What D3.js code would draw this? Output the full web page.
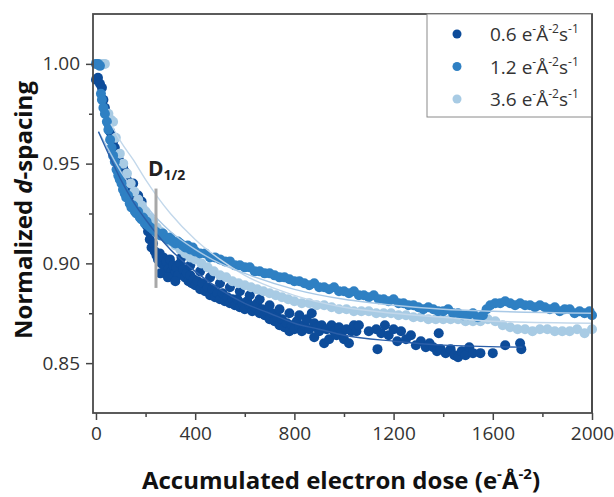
<!DOCTYPE html>
<html>
<head>
<meta charset="utf-8">
<script src="https://cdn.jsdelivr.net/npm/d3@7"></script>
<style>
  body { margin: 0; background: #fff; }
  text { font-family: "Open Sans", sans-serif; }
</style>
</head>
<body>
<script>
// data: [dose, normalized d-spacing]
var series06 = [[0,0.992],[8,0.993],[16,0.990],[24,0.988],[30,0.982],[36,0.978],[44,0.975],[50,0.970],[57,0.966],[63,0.963],
  [69,0.961],[76,0.958],[83,0.955],[90,0.953],[96,0.951],[103,0.950],[109,0.948],[116,0.946],[122,0.943],[129,0.941],
  [136,0.940],[143,0.936],[150,0.940],[157,0.934],[163,0.932],[170,0.934],[177,0.929],[184,0.931],[190,0.926],[197,0.922],
  [204,0.919],[210,0.916],[217,0.912],[224,0.908],[230,0.910],[237,0.906],[244,0.904],[250,0.902],[257,0.905],[264,0.900],
  [271,0.903],[278,0.898],[284,0.901],[291,0.897],[298,0.902],[305,0.896],[311,0.899],[318,0.895],[325,0.898],[332,0.894],
  [339,0.900],[345,0.903],[352,0.897],[359,0.893],[366,0.895],[373,0.891],[380,0.894],[386,0.890],[393,0.892],[400,0.889],
  [410,0.891],[420,0.887],[430,0.890],[440,0.886],[450,0.888],[460,0.884],[470,0.887],[480,0.883],[490,0.885],[500,0.882],
  [510,0.885],[520,0.881],[530,0.883],[540,0.880],[550,0.882],[560,0.879],[570,0.882],[580,0.878],[590,0.880],[600,0.877],
  [610,0.881],[620,0.879],[630,0.876],[640,0.878],[650,0.880],[660,0.875],[670,0.877],[680,0.874],[690,0.876],[700,0.872],
  [710,0.875],[720,0.871],[730,0.873],[740,0.869],[750,0.872],[760,0.868],[770,0.870],[780,0.866],[790,0.869],[800,0.867],
  [810,0.871],[820,0.868],[830,0.866],[840,0.869],[850,0.872],[860,0.867],[870,0.875],[880,0.870],[890,0.868],[900,0.866],
  [910,0.869],[920,0.860],[930,0.867],[940,0.862],[950,0.869],[960,0.866],[970,0.864],[980,0.868],[990,0.865],[1000,0.862],
  [1010,0.867],[1020,0.860],[1030,0.866],[1040,0.869],[1050,0.866],[1130,0.867],[1135,0.857],[1150,0.865],[1165,0.869],
  [1180,0.864],[1200,0.867],[1215,0.861],[1230,0.866],[1250,0.862],[1270,0.864],[1290,0.859],[1310,0.861],[1330,0.858],
  [1345,0.860],[1360,0.858],[1375,0.856],[1382,0.865],[1390,0.857],[1410,0.855],[1430,0.857],[1445,0.854],[1460,0.853],
  [1475,0.856],[1490,0.854],[1505,0.858],[1520,0.855],[1550,0.855],[1600,0.855],[1650,0.859],[1710,0.860],[1715,0.857],
  [260,0.895],[290,0.893],[320,0.891],[380,0.899],[420,0.896],[460,0.893],[500,0.890],[540,0.888],[580,0.886],[620,0.884],
  [660,0.882],[700,0.879],[740,0.877],[780,0.875],[820,0.874],[880,0.863],[1060,0.869],[1100,0.866]];

var series12 = [[0,1.000],[8,1.000],[16,0.999],[20,0.985],[24,0.982],[30,0.978],[36,0.975],[44,0.971],[50,0.967],[57,0.962],
  [63,0.958],[69,0.954],[76,0.951],[83,0.947],[90,0.944],[96,0.942],[103,0.940],[109,0.937],[116,0.935],[122,0.933],
  [129,0.934],[136,0.930],[143,0.928],[150,0.929],[157,0.926],[163,0.925],[170,0.926],[177,0.923],[184,0.922],[190,0.923],
  [197,0.920],[204,0.921],[210,0.919],[220,0.918],[230,0.917],[240,0.916],[250,0.915],[260,0.914],[270,0.915],[280,0.913],
  [290,0.912],[300,0.913],[310,0.911],[320,0.910],[330,0.911],[340,0.910],[350,0.909],[360,0.908],[370,0.909],[380,0.907],
  [390,0.908],[400,0.906],[420,0.905],[440,0.905],[460,0.903],[480,0.903],[500,0.902],[520,0.901],[540,0.901],[560,0.899],
  [580,0.899],[600,0.898],[620,0.898],[640,0.896],[660,0.896],[680,0.895],[700,0.895],[720,0.894],[740,0.893],[760,0.893],
  [780,0.892],[800,0.891],[820,0.891],[840,0.890],[860,0.889],[880,0.890],[900,0.888],[920,0.888],[940,0.887],[960,0.888],
  [980,0.886],[1000,0.886],[1020,0.885],[1040,0.886],[1060,0.884],[1080,0.884],[1100,0.883],[1120,0.884],[1140,0.882],
  [1160,0.882],[1180,0.881],[1200,0.882],[1220,0.880],[1240,0.880],[1260,0.879],[1280,0.879],[1300,0.878],[1320,0.877],
  [1340,0.878],[1360,0.877],[1380,0.876],[1400,0.876],[1420,0.877],[1440,0.875],[1460,0.875],[1480,0.874],[1500,0.874],
  [1520,0.875],[1540,0.873],[1560,0.874],[1575,0.877],[1590,0.879],[1610,0.880],[1630,0.880],[1650,0.881],[1670,0.880],
  [1690,0.879],[1710,0.880],[1730,0.879],[1750,0.879],[1770,0.878],[1790,0.879],[1810,0.878],[1830,0.877],[1850,0.878],
  [1870,0.876],[1890,0.877],[1910,0.877],[1930,0.875],[1950,0.876],[1970,0.875],[1990,0.876],[2000,0.874]];

var series36 = [[0,1.000],[16,1.000],[30,1.000],[36,1.000],[50,0.975],[60,0.972],[69,0.971],[80,0.963],[96,0.955],[110,0.950],
  [125,0.945],[140,0.940],[155,0.936],[170,0.932],[185,0.929],[200,0.926],[215,0.923],[230,0.921],[245,0.918],[260,0.916],
  [280,0.913],[300,0.911],[320,0.909],[340,0.907],[360,0.905],[380,0.903],[400,0.902],[425,0.900],[450,0.898],[475,0.896],
  [500,0.894],[525,0.893],[550,0.891],[575,0.890],[600,0.889],[625,0.888],[650,0.887],[675,0.886],[700,0.885],[725,0.884],
  [750,0.883],[775,0.882],[800,0.881],[830,0.880],[860,0.880],[890,0.879],[920,0.879],[950,0.878],[980,0.877],[1010,0.877],
  [1040,0.876],[1070,0.876],[1100,0.876],[1130,0.875],[1160,0.875],[1190,0.875],[1220,0.874],[1250,0.874],[1280,0.873],
  [1310,0.873],[1340,0.872],[1370,0.872],[1400,0.872],[1430,0.872],[1460,0.872],[1490,0.871],[1520,0.871],[1550,0.871],
  [1580,0.872],[1610,0.871],[1640,0.869],[1670,0.868],[1700,0.867],[1730,0.867],[1760,0.866],[1790,0.867],[1820,0.867],
  [1850,0.866],[1880,0.866],[1910,0.866],[1940,0.867],[1970,0.865],[2000,0.867]];

// fitted curves
var fit06 = [[10,0.966],[50,0.955],[100,0.942],[150,0.931],[200,0.922],[250,0.914],[300,0.907],[400,0.896],[500,0.887],
  [600,0.880],[700,0.875],[800,0.870],[900,0.867],[1000,0.864],[1200,0.861],[1400,0.859],[1720,0.858]];
var fit12 = [[10,0.966],[50,0.957],[100,0.946],[150,0.937],[200,0.929],[250,0.922],[300,0.916],[400,0.907],[500,0.900],
  [600,0.895],[800,0.887],[1000,0.882],[1200,0.879],[1400,0.877],[1600,0.876],[2000,0.875]];
var fit36 = [[60,0.970],[100,0.961],[150,0.952],[200,0.942],[250,0.933],[300,0.925],[400,0.912],[500,0.902],[600,0.894],
  [800,0.884],[1000,0.878],[1200,0.875],[1400,0.873],[1600,0.871],[2000,0.870]];

var legendLabels = ["0.6", "1.2", "3.6"];
var xTicks = [0, 400, 800, 1200, 1600, 2000];
var xMinor = [200, 600, 1000, 1400, 1800];
var yTicks = [0.85, 0.90, 0.95, 1.00];
var yMinor = [0.875, 0.925, 0.975];
var halfDose = 242;

var colors = ["#0d4c9a", "#2f80c3", "#a8cbe4"];
var fitColors = ["#2a5ea8", "#a9c9e6", "#c3d8eb"];

var width = 614, height = 497;
var svg = d3.select("body").append("svg").attr("width", width).attr("height", height);

var x = d3.scaleLinear().domain([-12, 2000]).range([93, 592]);
var y = d3.scaleLinear().domain([0.825, 1.025]).range([413, 14]);

// points: 0.6 first, then 3.6, then 1.2 on top
var order = [0, 2, 1];
var allSeries = [series06, series12, series36];
order.forEach(function(i){
  svg.append("g").selectAll("circle").data(allSeries[i]).enter().append("circle")
    .attr("cx", function(d){ return x(d[0]); })
    .attr("cy", function(d){ return y(d[1]); })
    .attr("r", 5)
    .attr("fill", colors[i]);
});

// fits
var line = d3.line().x(function(d){ return x(d[0]); }).y(function(d){ return y(d[1]); }).curve(d3.curveMonotoneX);
[fit36, fit12, fit06].forEach(function(f, k){
  svg.append("path").attr("d", line(f)).attr("fill", "none")
    .attr("stroke", fitColors[2 - k]).attr("stroke-width", 1.4);
});

// D1/2 marker
svg.append("line").attr("x1", x(halfDose)).attr("x2", x(halfDose))
  .attr("y1", y(0.9375)).attr("y2", y(0.8877))
  .attr("stroke", "#a8a8a8").attr("stroke-width", 3);
var dl = svg.append("text").attr("x", x(halfDose) - 8).attr("y", 176)
  .attr("font-weight", "bold").attr("font-size", 21).attr("fill", "#222");
dl.append("tspan").text("D");
dl.append("tspan").attr("font-size", 14).attr("dy", 4).text("1/2");

// axes
svg.append("g").attr("transform", "translate(0,413)")
  .call(d3.axisBottom(x).tickValues(xTicks).tickFormat(d3.format("d")).tickSize(7).tickPadding(7));
svg.append("g").attr("transform", "translate(0,413)")
  .call(d3.axisBottom(x).tickValues(xMinor).tickSize(4).tickFormat(""));
svg.append("g").attr("transform", "translate(93,0)")
  .call(d3.axisLeft(y).tickValues(yTicks).tickFormat(d3.format(".2f")).tickSize(7).tickPadding(6));
svg.append("g").attr("transform", "translate(93,0)")
  .call(d3.axisLeft(y).tickValues(yMinor).tickSize(4).tickFormat(""));
svg.selectAll(".domain").remove();
svg.selectAll(".tick line").attr("stroke", "#444").attr("stroke-width", 1.5);
svg.selectAll(".tick text").attr("font-size", 19).attr("fill", "#333")
  .attr("font-family", "'Open Sans', sans-serif");

// frame
svg.append("rect").attr("x", 93).attr("y", 14).attr("width", 499).attr("height", 399)
  .attr("fill", "none").attr("stroke", "#4a4a4a").attr("stroke-width", 1.8);

// legend
var lg = svg.append("g");
lg.append("rect").attr("x", 427).attr("y", 14).attr("width", 165).attr("height", 103)
  .attr("fill", "#fff").attr("stroke", "#8a8a8a").attr("stroke-width", 1);
legendLabels.forEach(function(lab, i){
  var cy = 34 + i * 32.5;
  lg.append("circle").attr("cx", 457).attr("cy", cy).attr("r", 4.5).attr("fill", colors[i]);
  var t = lg.append("text").attr("x", 490).attr("y", cy + 7).attr("font-size", 19).attr("fill", "#333");
  t.append("tspan").text(lab + " e");
  t.append("tspan").attr("font-size", 12).attr("dy", -8).text("-");
  t.append("tspan").attr("dy", 8).text("Å");
  t.append("tspan").attr("font-size", 12).attr("dy", -8).text("-2");
  t.append("tspan").attr("dy", 8).text("s");
  t.append("tspan").attr("font-size", 12).attr("dy", -8).text("-1");
});
svg.append("line").attr("x1", 592).attr("x2", 592).attr("y1", 14).attr("y2", 413)
  .attr("stroke", "#4a4a4a").attr("stroke-width", 1.8);

// axis titles
var xt = svg.append("text").attr("x", 341).attr("y", 489).attr("text-anchor", "middle")
  .attr("font-weight", "bold").attr("font-size", 24).attr("fill", "#111");
xt.append("tspan").text("Accumulated electron dose (e");
xt.append("tspan").attr("font-size", 15).attr("dy", -10).text("-");
xt.append("tspan").attr("dy", 10).text("Å");
xt.append("tspan").attr("font-size", 15).attr("dy", -10).text("-2");
xt.append("tspan").attr("dy", 10).text(")");

var yt = svg.append("text").attr("transform", "translate(32,210) rotate(-90)").attr("text-anchor", "middle")
  .attr("font-weight", "bold").attr("font-size", 24).attr("fill", "#111");
yt.append("tspan").text("Normalized ");
yt.append("tspan").attr("font-style", "italic").text("d");
yt.append("tspan").text("-spacing");
</script>
</body>
</html>
